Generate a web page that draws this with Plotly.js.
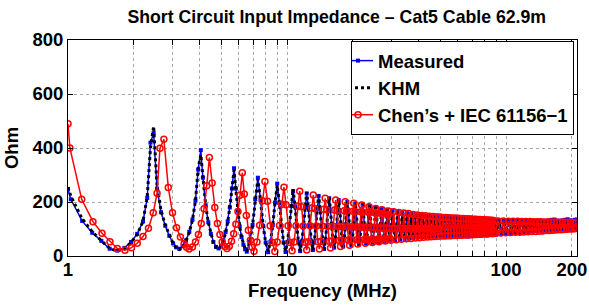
<!DOCTYPE html>
<html>
<head>
<meta charset="utf-8">
<script src="https://cdn.plot.ly/plotly-3.0.1.min.js"></script>
<style>html,body{margin:0;padding:0;background:#fff;}#chart{width:589px;height:306px;}</style>
</head>
<body>
<div id="chart"></div>
<script>
// Frequency grid (MHz) shared by the measured curve and the KHM model
const freqMeasured = [
 1.00,1.03,1.16,1.29,1.42,1.55,1.68,1.81,1.94,2.07,2.20,2.30,2.38,2.46,
 2.55,2.66,2.78,2.90,3.02,3.12,3.22,3.34,3.46,3.58,3.70,3.82,3.93,4.04,
 4.13,4.25,4.37,4.49,4.61,4.74,4.87,5.00,5.12,5.24,5.36,5.48,5.60,5.73,
 5.84,5.96,6.08,6.20,6.32,6.44,6.55,
 6.75,6.96,7.16,7.36,7.57,7.78,7.99,8.20,
 8.40,8.61,8.81,9.02,9.23,9.43,9.64,9.85,
 10.05,10.26,10.46,10.66,10.87,11.07,11.28,11.48,
 11.69,11.89,12.10,12.30,12.51,12.71,12.92,13.12,
 13.33,13.53,13.74,13.94,14.15,14.35,14.56,14.76,
 14.97,15.17,15.38,15.58,15.79,15.99,16.20,16.40,
 16.61,16.81,17.02,17.22,17.43,17.63,17.84,18.04,
 18.25,18.45,18.66,18.86,19.07,19.27,19.48,19.68,
 19.89,20.09,20.30,20.50,20.71,20.91,21.12,21.32,
 21.53,21.73,21.94,22.14,22.35,22.55,22.76,22.96,
 23.17,23.37,23.58,23.78,23.99,24.19,24.40,24.60,
 24.81,25.01,25.22,25.42,25.63,25.83,26.04,26.24,
 26.45,26.65,26.86,27.06,27.27,27.47,27.68,27.88,
 28.09,28.29,28.50,28.70,28.91,29.11,29.32,29.52,
 29.93,30.34,30.75,31.16,31.57,31.98,32.39,32.80,
 33.21,33.62,34.03,34.44,34.85,35.26,35.67,36.08,
 36.49,36.90,37.31,37.72,38.13,38.54,38.95,39.36,
 39.77,40.18,40.59,41.00,41.41,41.82,42.23,42.64,
 43.05,43.46,43.87,44.28,44.69,45.10,45.51,45.92,
 46.33,46.74,47.15,47.56,47.97,48.38,48.79,49.20,
 50.02,50.84,51.66,52.48,53.30,54.12,54.94,55.76,56.58,57.40,
 58.22,59.04,59.86,60.68,61.50,62.32,63.14,63.96,64.78,65.60,
 66.42,67.24,68.06,68.88,69.70,70.52,71.34,72.16,72.98,73.80,
 74.62,75.44,76.26,77.08,77.90,78.72,79.54,80.36,81.18,82.00,
 82.82,83.64,84.46,85.28,86.10,86.92,87.74,88.56,89.38,90.20,
 92.66,95.12,97.58,100.04,102.50,104.96,107.42,109.88,112.34,114.80,
 117.26,119.72,122.18,124.64,127.10,129.56,132.02,134.48,136.94,139.40,
 141.86,144.32,146.78,149.24,151.70,154.16,156.62,159.08,161.54,164.00,
 166.46,168.92,171.38,173.84,176.30,178.76,181.22,183.68,186.14,188.60,
 191.06,193.52,195.98,198.44,200.90,203.36,205.82,208.28,210.74
];
// Measured input impedance (Ohm)
const measuredOhm = [
 248,210,130,86,56,27,20,30,52,82,128,215,420,455,
 250,162,112,75,47,32,27,36,58,90,135,205,320,392,
 290,188,125,82,52,34,28,38,58,88,128,180,250,325,
 250,168,110,70,42,25,16,
 52,115,210,290,208,112,50,14,
 52,114,198,268,196,112,50,15,
 52,113,185,240,184,112,51,18,
 53,112,180,232,179,111,52,22,
 54,112,176,222,175,111,54,26,
 55,110,172,214,171,109,56,31,
 57,109,169,207,168,108,58,35,
 59,108,167,200,166,107,60,39,
 60,107,165,195,164,106,61,43,
 61,106,163,190,162,105,62,46,
 63,105,162,185,161,104,64,49,
 64,104,160,180,159,103,65,52,
 65,104,158,175,157,103,66,55,
 66,103,156,171,155,102,67,57,
 103,168,102,59,102,164,102,61,
 102,161,102,63,102,159,102,65,
 102,157,101,66,101,155,101,68,
 101,153,101,69,101,151,101,70,
 101,150,101,71,101,148,101,72,
 101,147,101,73,101,146,101,74,
 146,72,145,74,144,73,145,75,143,71,
 142,76,143,74,141,73,140,76,141,75,
 139,72,139,77,138,76,139,74,137,78,
 137,76,136,75,137,79,135,77,135,76,
 134,80,135,78,133,77,133,81,132,79,
 132,82,131,84,131,83,130,86,130,85,
 129,88,130,89,129,91,129,92,130,93,
 131,94,129,95,130,96,132,97,134,98,
 135,98,131,99,130,100,132,100,134,101,
 136,101,132,102,131,102,134,103,135
];
// KHM model (Ohm)
const khmOhm = [
 255,222,138,90,57,28,18,28,50,80,128,220,400,480,
 260,168,115,76,46,30,24,34,56,88,133,205,325,375,
 285,190,125,82,50,32,26,36,56,86,126,180,255,318,
 245,165,110,70,42,25,18,
 51,114,206,285,206,112,50,18,
 52,113,196,262,195,112,51,18,
 52,112,186,248,185,112,52,19,
 53,112,181,236,180,111,53,21,
 54,111,177,226,176,111,54,25,
 55,110,173,216,172,109,56,30,
 57,109,170,209,169,108,58,34,
 59,108,168,202,167,107,60,38,
 60,107,166,196,165,106,61,42,
 61,106,164,190,163,105,62,45,
 63,105,162,185,161,104,64,48,
 64,104,160,180,159,103,65,51,
 65,104,158,175,157,103,66,54,
 66,103,156,170,155,102,67,56,
 103,167,102,58,102,163,102,60,
 102,160,102,62,102,158,102,64,
 102,156,101,65,101,154,101,67,
 101,152,101,68,101,150,101,69,
 101,149,101,70,101,147,101,71,
 101,146,101,72,101,145,101,73,
 145,75,144,75,144,76,143,76,142,77,
 142,77,141,77,140,78,140,78,139,78,
 139,79,138,79,138,80,137,80,137,80,
 136,81,136,81,135,81,135,82,134,82,
 134,82,133,83,133,83,132,84,132,84,
 130,85,130,86,129,87,129,88,128,89,
 128,90,128,90,127,91,127,92,127,93,
 127,94,126,95,126,95,126,96,126,97,
 126,97,125,98,125,99,125,99,125,100,
 125,100,125,101,124,102,124,102,124
];
// Frequency grid (MHz) for the Chen's + IEC 61156-1 model
const freqChen = [
 1.00,1.02,1.155,1.30,1.43,1.555,1.68,1.82,1.95,2.07,2.20,2.33,2.45,2.55,2.63,2.74,
 2.87,3.00,3.13,3.26,3.39,3.48,3.57,3.70,3.82,3.94,4.06,4.18,4.30,4.42,
 4.55,4.68,4.81,4.94,5.06,5.19,5.32,5.45,5.58,5.71,5.84,5.97,6.10,6.25,
 6.38,6.52,6.66,6.80,6.93,7.07,
 7.29,7.50,7.72,7.93,8.15,8.37,8.58,8.80,
 9.02,9.24,9.46,9.68,9.90,10.11,10.33,10.55,
 10.77,10.99,11.21,11.43,11.65,11.86,12.08,12.30,
 12.52,12.74,12.96,13.18,13.40,13.61,13.83,14.05,
 14.27,14.49,14.71,14.93,15.15,15.36,15.58,15.80,
 16.02,16.24,16.46,16.68,16.90,17.11,17.33,17.55,
 17.77,17.99,18.21,18.43,18.65,18.86,19.08,19.30,
 19.52,19.74,19.96,20.18,20.40,20.61,20.83,21.05,
 21.27,21.49,21.71,21.93,22.15,22.36,22.58,22.80,
 23.02,23.24,23.46,23.68,23.90,24.11,24.33,24.55,
 24.77,24.99,25.21,25.43,25.65,25.86,26.08,26.30,
 26.52,26.74,26.96,27.18,27.40,27.61,27.83,28.05,
 28.27,28.49,28.71,28.93,29.15,29.36,29.58,29.80,
 30.24,30.68,31.11,31.55,31.99,32.43,32.86,33.30,
 33.74,34.18,34.61,35.05,35.49,35.93,36.36,36.80,
 37.24,37.68,38.11,38.55,38.99,39.43,39.86,40.30,
 40.74,41.18,41.61,42.05,42.49,42.93,43.36,43.80,
 44.24,44.68,45.11,45.55,45.99,46.43,46.86,47.30,
 47.74,48.18,48.61,49.05,
 49.92,50.80,51.67,52.55,53.42,54.30,55.17,56.05,56.92,57.80,
 58.67,59.55,60.42,61.30,62.17,63.05,63.92,64.80,65.67,66.55,
 67.42,68.30,69.17,70.05,70.92,71.80,72.67,73.55,74.42,75.30,
 76.17,77.05,77.92,78.80,79.67,80.55,81.42,82.30,83.17,84.05,
 84.92,85.80,86.67,87.55,88.42,89.30,
 91.92,94.55,97.17,99.80,102.42,105.05,107.67,110.30,112.92,115.55,
 118.17,120.80,123.42,126.05,128.67,131.30,133.92,136.55,139.17,141.80,
 144.42,147.05,149.67,152.30,154.92,157.55,160.17,162.80,165.42,168.05,
 170.67,173.30,175.92,178.55,181.17,183.80,186.42,189.05,191.67,194.30,
 196.92,199.55,202.17,204.80,207.42,210.05
];
// Chen's + IEC 61156-1 model (Ohm)
const chenOhm = [
 490,400,210,127,84,53,28,21,31,47,72,103,160,232,399,432,
 254,160,105,70,45,32,26,33,52,80,120,175,260,365,
 270,180,120,80,52,35,28,36,55,82,118,165,225,308,
 230,150,95,58,32,18,
 52,114,205,276,203,112,50,17,
 52,113,192,255,190,112,50,19,
 52,112,184,240,182,111,51,22,
 53,112,178,226,176,111,53,26,
 54,111,173,214,171,110,55,30,
 56,110,170,207,169,109,57,35,
 58,109,168,201,167,108,59,40,
 59,108,166,195,165,107,60,44,
 60,107,164,189,163,106,61,47,
 61,106,162,182,161,105,62,50,
 62,105,159,176,158,104,63,53,
 63,104,157,171,156,103,64,56,
 64,103,155,167,154,102,65,58,
 103,164,102,60,102,161,102,62,
 102,159,102,64,102,157,101,65,
 101,154,101,67,101,152,101,68,
 101,150,101,69,101,149,101,70,
 101,147,101,71,101,146,101,72,
 101,145,101,73,
 144,74,143,74,143,75,142,75,141,76,
 141,76,140,77,139,77,139,78,138,78,
 138,79,137,79,136,80,136,80,135,81,
 135,81,134,82,134,82,133,82,133,83,
 132,83,132,84,131,84,
 130,85,130,86,129,87,129,88,129,88,
 128,89,128,90,128,91,127,91,127,92,
 127,93,126,94,126,94,126,95,126,96,
 125,97,125,97,125,98,125,99,125,100,
 124,100,124,101,124,102
];
// Axis ticks
const xTickVals = [1,2,3,4,5,6,7,8,9,10,20,30,40,50,60,70,80,90,100,200];
const xTickText = ['1','','','','','','','','','10','','','','','','','','','100','200'];
const yTickVals = [0,200,400,600,800];

const FONT = 'Liberation Sans, Arial, Helvetica, sans-serif';
const traces = [
  {x: freqMeasured, y: measuredOhm, name: 'Measured', type: 'scatter', mode: 'lines+markers',
   line: {color: '#0000ff', width: 1.5}, marker: {symbol: 'square', size: 4, color: '#0000ff'}},
  {x: freqMeasured, y: khmOhm, name: 'KHM', type: 'scatter', mode: 'lines',
   line: {color: '#000000', width: 3, dash: 'dot'}},
  {x: freqChen, y: chenOhm, name: 'Chen\u2019s + IEC 61156\u22121', type: 'scatter', mode: 'lines+markers',
   line: {color: '#ff0000', width: 1.5},
   marker: {symbol: 'circle-open', size: 6, color: '#ff0000', line: {width: 1.5, color: '#ff0000'}}}
];
const axisCommon = {
  showline: true, linecolor: '#000', linewidth: 1, mirror: 'ticks',
  ticks: 'inside', ticklen: 5, tickcolor: '#000', tickwidth: 1,
  showgrid: true, gridcolor: '#a8a8a8', gridwidth: 1, griddash: 'dot',
  zeroline: false, tickfont: {family: FONT, size: 18.5, color: '#000', weight: 'bold'}
};
const layout = {
  width: 589, height: 306,
  margin: {l: 68, r: 12, t: 40, b: 50},
  paper_bgcolor: '#fff', plot_bgcolor: '#fff',
  font: {family: FONT, size: 18.5, color: '#000', weight: 'bold'},
  title: {text: 'Short Circuit Input Impedance \u2013 Cat5 Cable 62.9m',
          font: {family: FONT, size: 17.7, color: '#000', weight: 'bold'},
          xref: 'paper', x: 0.528, xanchor: 'center', yref: 'container', y: 0.944, yanchor: 'middle'},
  xaxis: Object.assign({}, axisCommon, {
    type: 'log', range: [0, 2.324], tickmode: 'array', tickvals: xTickVals, ticktext: xTickText,
    ticklabelstandoff: -3,
    title: {text: 'Frequency (MHz)', font: {family: FONT, size: 18.5, color: '#000', weight: 'bold'}, standoff: 0}
  }),
  yaxis: Object.assign({}, axisCommon, {
    range: [0, 800], tickmode: 'array', tickvals: yTickVals,
    title: {text: 'Ohm', font: {family: FONT, size: 18.5, color: '#000', weight: 'bold'}, standoff: 8}
  }),
  showlegend: true,
  legend: {x: 0.556, y: 0.995, xanchor: 'left', yanchor: 'top', bgcolor: '#fff',
           bordercolor: '#000', borderwidth: 1, indentation: -14, tracegroupgap: 0,
           font: {family: FONT, size: 18.5, color: '#000', weight: 'bold'}}
};
Plotly.newPlot('chart', traces, layout, {displayModeBar: false, staticPlot: true});
</script>
</body>
</html>
